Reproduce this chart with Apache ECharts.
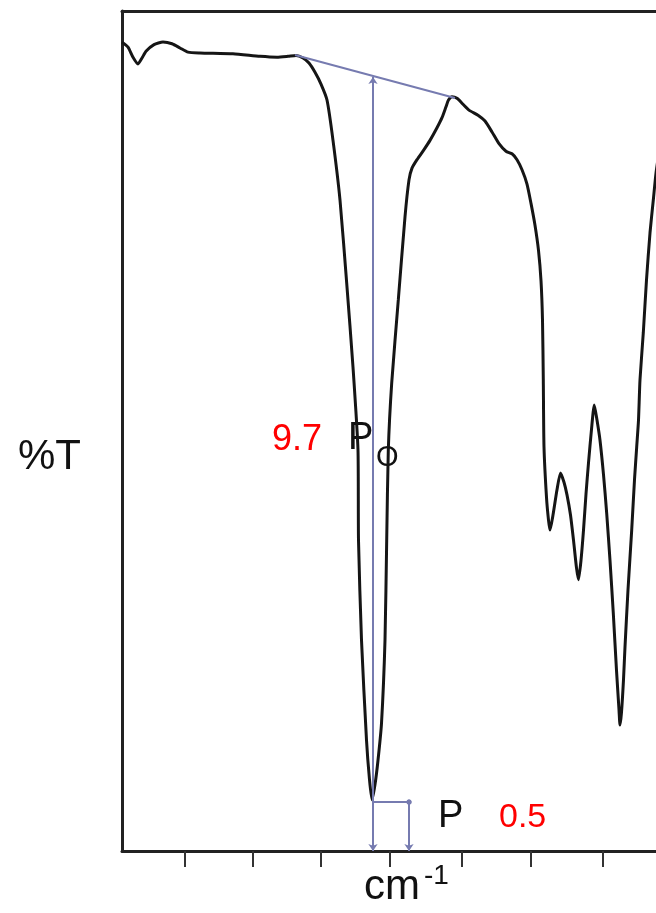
<!DOCTYPE html>
<html>
<head>
<meta charset="utf-8">
<script src="https://cdn.jsdelivr.net/npm/echarts@6/dist/echarts.min.js"></script>
<style>
  html, body { margin: 0; padding: 0; background: #fff; }
  #chart { width: 656px; height: 913px; }
</style>
</head>
<body>
<div id="chart"></div>
<script>
// спектр: x — условные единицы вдоль оси, y — %T (0..100)
const spectrumX = [
  0, 6, 11, 16, 20, 24, 32, 41, 50, 58, 66, 78, 111, 138, 155, 166, 174, 181, 187, 193,
  199, 205, 211, 218, 224.7, 231, 236, 236.5, 239.5, 244.5, 247.5, 250, 253, 256, 259.5, 263,
  264.7, 266.3, 269.7, 276.3, 283, 287, 290, 295, 302, 308, 315, 320, 324, 326.5, 330, 335,
  341, 347, 356, 363, 370, 377, 384, 390, 395, 400, 405, 409, 413, 416.5, 419, 420.5, 421.3,
  422, 424.5, 426.5, 428, 431, 435, 438.5, 442, 445, 448.5, 451.5, 454.5, 456.5, 459, 461.5,
  464, 466.5, 469.5, 472.3, 475, 478, 481.5, 484.7, 488, 491.3, 494.5, 497, 498, 499.5, 501.5,
  503, 506, 509.7, 512.5, 514.7, 516.5, 518, 521.3, 524.5, 528, 531.3, 534, 538
];
const spectrumT = [
  96.3, 95.7, 94.5, 93.7, 94.4, 95.2, 96.0, 96.3, 96.1, 95.6, 95.1, 95.0, 94.9, 94.6, 94.5, 94.6, 94.7, 94.4, 93.8, 92.7,
  91.3, 89.4, 84.6, 77.5, 67.6, 57.6, 47.7, 37.0, 25.1, 13.2, 8.5, 6.1, 7.9, 10.8, 15.2, 25.1,
  37.0, 47.7, 55.7, 65.6, 75.5, 79.9, 81.3, 82.3, 83.5, 84.6, 86.1, 87.3, 88.6, 89.4, 89.8, 89.6,
  88.9, 88.2, 87.6, 86.9, 85.6, 84.2, 83.3, 83.0, 82.3, 81.1, 79.4, 77.1, 74.5, 71.5, 67.9, 63.2, 56.1,
  48.1, 42.1, 39.4, 38.2, 40.0, 43.0, 45.0, 43.9, 42.4, 40.0, 37.0, 33.7, 32.3, 34.6, 38.2,
  42.5, 46.2, 50.2, 53.1, 51.3, 48.9, 44.8, 40.2, 34.6, 28.3, 21.5, 16.8, 15.0, 16.5, 20.4,
  24.3, 31.1, 38.2, 44.2, 48.1, 51.3, 56.1, 61.7, 68.0, 73.6, 77.5, 80.7, 84.0
];

// деления на оси X (подписей нет)
const tickValues = [63, 131, 199, 268, 340, 409, 481];

// построение базовой линии и отрезков P0 / P
const baseline = [[173, 94.76], [333, 89.64]];
const p0Line = [[251, 92.14], [251, 0]];
const pStep = [[251, 5.83], [287, 5.83]];
const pLine = [[287, 5.83], [287, 0]];

// подписи
const p0Value = "9.7";
const pValue = "0.5";

const chart = echarts.init(document.getElementById("chart"));

const annotColor = "#767bb0";
const axisLineStyle = { color: "#222", width: 3 };
const font = (size) => size + "px 'Liberation Sans', Arial";

const option = {
  backgroundColor: "#ffffff",
  animation: false,
  grid: { left: 122, top: 11, right: 0, height: 840 },
  xAxis: [
    {
      type: "value", min: 0, max: 534,
      splitLine: { show: false },
      axisLine: { show: true, onZero: false, lineStyle: axisLineStyle },
      axisTick: { show: true, inside: false, length: 16, customValues: tickValues,
        lineStyle: { color: "#333", width: 2 } },
      axisLabel: { show: false }
    },
    {
      // верхняя рамка
      type: "value", min: 0, max: 534, position: "top",
      splitLine: { show: false },
      axisLine: { show: true, onZero: false, lineStyle: axisLineStyle },
      axisTick: { show: false },
      axisLabel: { show: false }
    }
  ],
  yAxis: {
    type: "value", min: 0, max: 100,
    splitLine: { show: false },
    axisLine: { show: true, onZero: false, lineStyle: axisLineStyle },
    axisTick: { show: false },
    axisLabel: { show: false }
  },
  series: [
    {
      type: "line",
      data: spectrumX.map((x, i) => [x, spectrumT[i]]),
      showSymbol: false,
      smooth: 0.2,
      clip: true,
      lineStyle: { color: "#151515", width: 3 },
      z: 3
    },
    {
      type: "line",
      data: [],
      markLine: {
        silent: true,
        animation: false,
        label: { show: false },
        lineStyle: { color: annotColor, width: 2, type: "solid" },
        data: [
          [{ coord: baseline[0], symbol: "none" }, { coord: baseline[1], symbol: "none" }],
          [{ coord: p0Line[0], symbol: "arrow", symbolSize: 7 }, { coord: p0Line[1], symbol: "arrow", symbolSize: 7 }],
          [{ coord: pStep[0], symbol: "none" }, { coord: pStep[1], symbol: "circle", symbolSize: 5 }],
          [{ coord: pLine[0], symbol: "circle", symbolSize: 5 }, { coord: pLine[1], symbol: "arrow", symbolSize: 7 }]
        ]
      },
      z: 2
    }
  ],
  graphic: [
    { type: "text", left: 18, top: 436, style: { text: "%T", font: font(42), fill: "#111" } },
    { type: "text", left: 272, top: 422, style: { text: p0Value, font: font(36), fill: "#ff0000" } },
    { type: "text", left: 348, top: 420, style: { text: "P", font: font(38), fill: "#111" } },
    { type: "text", left: 376, top: 443, style: { text: "O", font: font(29), fill: "#111" } },
    { type: "text", left: 438, top: 798, style: { text: "P", font: font(38), fill: "#111" } },
    { type: "text", left: 499, top: 801, style: { text: pValue, font: font(34), fill: "#ff0000" } },
    { type: "text", left: 364, top: 866, style: { text: "cm", font: font(42), fill: "#111" } },
    { type: "text", left: 424, top: 862, style: { text: "-1", font: font(28), fill: "#111" } }
  ]
};

chart.setOption(option);
</script>
</body>
</html>
